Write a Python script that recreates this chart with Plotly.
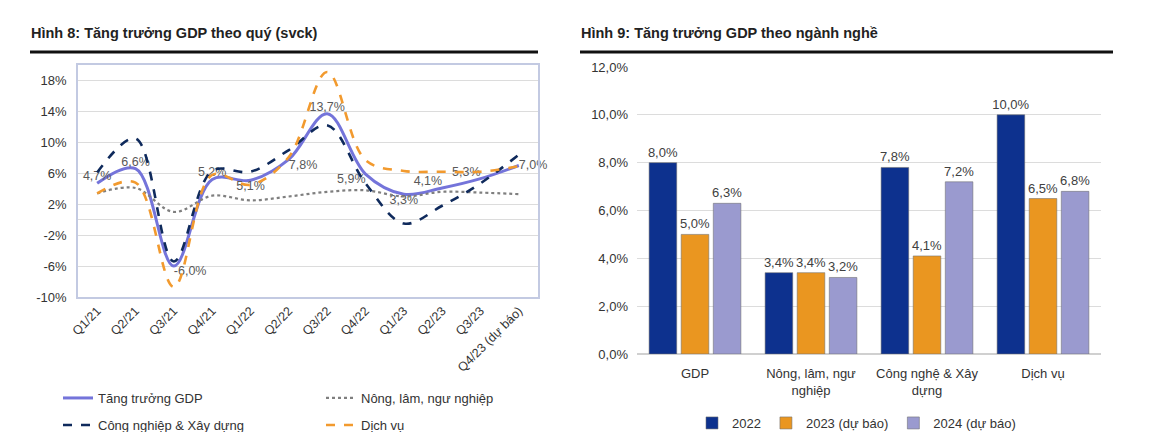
import plotly.graph_objects as go

# ---------------- Data ----------------
quarters = ["Q1/21", "Q2/21", "Q3/21", "Q4/21", "Q1/22", "Q2/22", "Q3/22",
            "Q4/22", "Q1/23", "Q2/23", "Q3/23", "Q4/23 (dự báo)"]
gdp_q = [4.7, 6.6, -6.0, 5.2, 5.1, 7.8, 13.7, 5.9, 3.3, 4.1, 5.3, 7.0]
agri_q = [3.4, 4.1, 1.0, 3.1, 2.5, 3.0, 3.6, 3.8, 3.0, 3.6, 3.5, 3.3]
industry_q = [6.1, 10.5, -5.4, 6.3, 6.2, 9.0, 12.2, 4.7, -0.5, 1.8, 4.7, 8.4]
services_q = [3.4, 4.8, -8.7, 5.8, 4.5, 8.1, 19.1, 7.7, 6.3, 6.2, 6.2, 6.9]
gdp_label_pos = ["top center", "top center", "bottom right", "top center",
                 "bottom center", "bottom right", "top center", "bottom left",
                 "bottom center", "top left", "top left", "middle right"]
left_ticks = [-10, -6, -2, 2, 6, 10, 14, 18]

sectors = ["GDP", "Nông, lâm, ngư<br>nghiệp", "Công nghệ & Xây<br>dựng", "Dịch vụ"]
y2022 = [8.0, 3.4, 7.8, 10.0]
y2023 = [5.0, 3.4, 4.1, 6.5]
y2024 = [6.3, 3.2, 7.2, 6.8]
right_ticks = [0, 2, 4, 6, 8, 10, 12]

FONT = "Arial, Liberation Sans, sans-serif"
W, H = 1161, 432
M = 8   # default body margin of the page: the figure starts 8px in


def px(x):
    """target window x (px) -> paper fraction"""
    return (x - M) / W


def py(y):
    """target window y (px, from top) -> paper fraction"""
    return 1 - (y - M) / H


fig = go.Figure()

# ---------------- Left chart: lines ----------------
fig.add_trace(go.Scatter(
    x=quarters, y=gdp_q, name="Tăng trưởng GDP", mode="lines+text",
    line=dict(color="#7474DA", width=3, shape="spline", smoothing=1.0),
    texttemplate="%{y:.1f}%", textposition=gdp_label_pos,
    textfont=dict(family=FONT, size=12.5, color="#595959"),
    cliponaxis=False, xaxis="x", yaxis="y", legend="legend"))
fig.add_trace(go.Scatter(
    x=quarters, y=agri_q, name="Nông, lâm, ngư nghiệp", mode="lines",
    line=dict(color="#7f7f7f", width=2.2, dash="dot", shape="spline", smoothing=1.0),
    xaxis="x", yaxis="y", legend="legend"))
fig.add_trace(go.Scatter(
    x=quarters, y=industry_q, name="Công nghiệp & Xây dựng", mode="lines",
    line=dict(color="#0F2A5C", width=2.6, dash="dash", shape="spline", smoothing=1.0),
    xaxis="x", yaxis="y", legend="legend3"))
fig.add_trace(go.Scatter(
    x=quarters, y=services_q, name="Dịch vụ", mode="lines",
    line=dict(color="#F29A2E", width=2.6, dash="dash", shape="spline", smoothing=1.0),
    xaxis="x", yaxis="y", legend="legend3"))

# ---------------- Right chart: bars ----------------
bar_specs = [("2022", y2022, "#0D318E"),
             ("2023 (dự báo)", y2023, "#EA9620"),
             ("2024 (dự báo)", y2024, "#9A9ACF")]
for name, vals, col in bar_specs:
    fig.add_trace(go.Bar(
        x=sectors, y=vals, name=name,
        marker=dict(color=col, line=dict(color="rgba(110,110,110,0.55)", width=1)),
        texttemplate="%{y:.1f}%", textposition="outside", constraintext="none",
        textfont=dict(family=FONT, size=13, color="#404040"),
        cliponaxis=False, xaxis="x2", yaxis="y2", legend="legend2"))

tickfont = dict(family=FONT, size=13, color="#333333")
legfont = dict(family=FONT, size=13, color="#333333")
left_ticktext = [f"{v}%" for v in left_ticks]
right_ticktext = [f"{v:.1f}%".replace(".", ",") for v in right_ticks]

fig.update_layout(
    width=W, height=H, margin=dict(l=0, r=0, t=0, b=0, autoexpand=False),
    paper_bgcolor="white", plot_bgcolor="white",
    separators=",.",
    font=dict(family=FONT, size=13, color="#333333"),
    barmode="group", bargap=0.17, bargroupgap=0.14,
    xaxis=dict(domain=[px(78), px(538)], range=[-0.5, 11.5],
               tickangle=-45, tickfont=dict(family=FONT, size=12.5, color="#333333"),
               showgrid=False, showline=True, mirror=True, linecolor="#C3CAE2",
               linewidth=1.5, ticks="", anchor="y"),
    yaxis=dict(domain=[py(297), py(65)], range=[-10, 20], tickmode="array",
               tickvals=left_ticks, ticktext=left_ticktext,
               tickfont=tickfont, showgrid=True, ticklabelstandoff=7,
               gridcolor="#DCDCDC", gridwidth=1.3, zeroline=True,
               zerolinecolor="#DCDCDC", zerolinewidth=1.3,
               showline=True, mirror=True, linecolor="#C3CAE2", linewidth=1.5,
               ticks="", anchor="x"),
    xaxis2=dict(domain=[px(637), px(1101)], tickfont=tickfont, showgrid=False,
                showline=False, ticks="", anchor="y2", ticklabelstandoff=10),
    yaxis2=dict(domain=[py(354), py(67)], range=[0, 12], tickmode="array",
                tickvals=right_ticks, ticktext=right_ticktext, tickfont=tickfont,
                showgrid=True, gridcolor="#DCDCDC", gridwidth=1.3, ticklabelstandoff=8,
                zeroline=True, zerolinecolor="#D0D0D0", zerolinewidth=1.5,
                showline=False, ticks="", anchor="x2"),
    legend=dict(orientation="h", x=px(58), y=py(383), xanchor="left", yanchor="top",
                entrywidth=218, entrywidthmode="pixels", itemwidth=30,
                font=legfont, bgcolor="rgba(0,0,0,0)"),
    legend3=dict(orientation="h", x=px(58), y=py(410), xanchor="left", yanchor="top",
                 entrywidth=218, entrywidthmode="pixels", itemwidth=30,
                 font=legfont, bgcolor="rgba(0,0,0,0)"),
    legend2=dict(orientation="h", x=px(692), y=py(408), xanchor="left", yanchor="top",
                 itemwidth=30, font=legfont, bgcolor="rgba(0,0,0,0)"),
    showlegend=True,
)

# Titles and rules
fig.add_annotation(text="<b>Hình 8: Tăng trưởng GDP theo quý (svck)</b>",
                   x=px(29), y=py(33), xref="paper", yref="paper",
                   xanchor="left", yanchor="middle", showarrow=False,
                   font=dict(family=FONT, size=14.5, color="#222222"))
fig.add_annotation(text="<b>Hình 9: Tăng trưởng GDP theo ngành nghề</b>",
                   x=px(579), y=py(33), xref="paper", yref="paper",
                   xanchor="left", yanchor="middle", showarrow=False,
                   font=dict(family=FONT, size=14.5, color="#222222"))
fig.add_shape(type="line", xref="paper", yref="paper",
              x0=px(30), x1=px(538), y0=py(52), y1=py(52),
              line=dict(color="#111111", width=3))
fig.add_shape(type="line", xref="paper", yref="paper",
              x0=px(580), x1=px(1113), y0=py(52), y1=py(52),
              line=dict(color="#111111", width=3))

fig.write_html("out.html", config={"displayModeBar": False})
